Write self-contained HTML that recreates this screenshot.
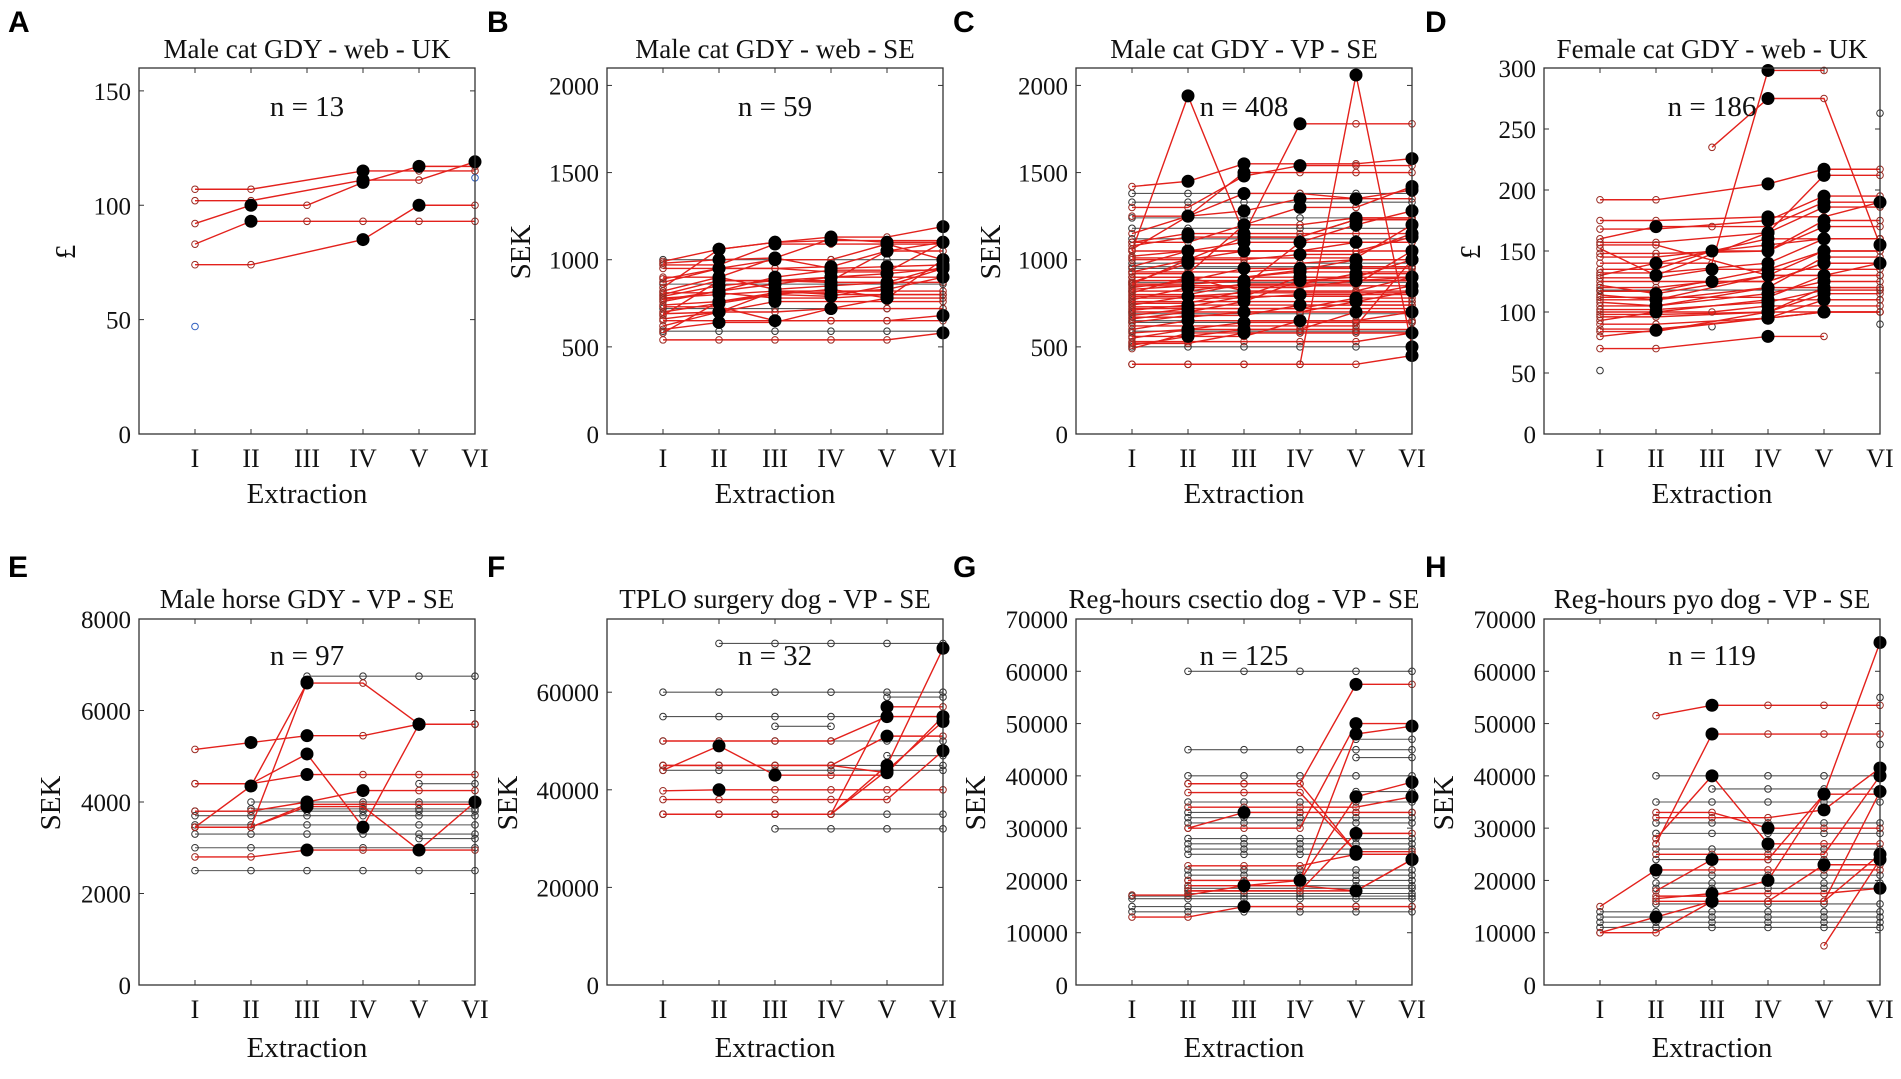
<!DOCTYPE html>
<html><head><meta charset="utf-8"><title>Price extraction panels</title>
<style>
html,body{margin:0;padding:0;background:#fff;}
svg{display:block;}
text{font-family:"Liberation Serif",serif;fill:#111;}
.lett{font-family:"Liberation Sans",sans-serif;font-weight:bold;font-size:30px;fill:#000;}
</style></head>
<body>
<svg id="fig" width="1901" height="1079" viewBox="0 0 1901 1079" xmlns="http://www.w3.org/2000/svg"></svg>
<script>
// ---- shared categories ----
const categories = ["I","II","III","IV","V","VI"];
// ---- panel titles / meta ----
const titles = ["Male cat GDY - web - UK","Male cat GDY - web - SE","Male cat GDY - VP - SE","Female cat GDY - web - UK","Male horse GDY - VP - SE","TPLO surgery dog - VP - SE","Reg-hours csectio dog - VP - SE","Reg-hours pyo dog - VP - SE"];
const letters = ["A","B","C","D","E","F","G","H"];
const nLabels = ["n = 13","n = 59","n = 408","n = 186","n = 97","n = 32","n = 125","n = 119"];
const yTitles = ["£","SEK","SEK","£","SEK","SEK","SEK","SEK"];
const yMax = [160,2100,2100,300,8000,75000,70000,70000];
const yTicksA = [0,50,100,150];
const yTicksB = [0,500,1000,1500,2000];
const yTicksD = [0,50,100,150,200,250,300];
const yTicksE = [0,2000,4000,6000,8000];
const yTicksF = [0,20000,40000,60000];
const yTicksG = [0,10000,20000,30000,40000,50000,60000,70000];
const _ = null;
// ---- series data (values per extraction I..VI) ----
const seriesA = [
 [107,107,_,115,115,115],[102,102,_,111,111,119],[92,100,100,110,117,117],
 [83,93,93,93,93,93],[74,74,_,85,100,100]];
const blueA = [[47,_,_,_,_,_],[_,_,_,_,_,112]];
const seriesB = [
 [1000,1000,1000,1000,1000,1000],[990,1060,1100,1130,1130,1190],[980,1000,1010,1120,1100,1100],
 [950,950,950,960,1050,1100],[890,950,1000,1000,1090,1000],[860,860,860,860,860,860],
 [840,1060,1100,1110,1110,1110],[820,900,1010,950,960,970],[800,880,880,880,1050,1050],
 [790,850,880,900,920,950],[780,800,820,800,800,800],[760,820,860,900,900,900],
 [740,760,800,790,850,950],[720,720,720,720,720,720],[700,750,800,830,780,1000],
 [690,700,760,760,760,760],[680,880,880,870,870,870],[660,700,700,720,780,780],
 [650,650,650,650,650,680],[600,640,640,720,720,720],[590,590,590,590,590,590],
 [580,760,810,810,830,900],[540,540,540,540,540,580],[770,820,900,940,940,940],
 [900,900,830,850,870,960],[970,970,1090,1090,1090,1090],[730,730,650,650,650,650],
 [810,810,780,780,800,800],[870,950,950,930,930,1100],[620,700,820,820,820,820]];
const blueB = [];
const seriesC = [
 [1050,1940,1150,1150,1150,1150],[400,400,400,400,2060,500],[1100,1150,1150,1780,1780,1780],
 [400,400,400,400,400,450],[1420,1450,1550,1550,1550,1580],[1380,1380,1380,1380,1380,1380],
 [1330,1330,1330,1330,1330,1330],[1300,1300,1480,1540,1540,1540],[1250,1250,1280,1350,1350,1400],
 [1180,1180,1180,1180,1180,1180],[1150,1250,1500,1500,1500,1500],[1100,1100,1200,1300,1300,1420],
 [1080,1130,1130,1130,1230,1230],[1060,1250,1380,1380,1350,1350],[1020,1050,1050,1050,1100,1100],
 [980,980,980,980,980,980],[960,1050,1100,1100,1200,1280],[950,950,950,950,950,950],
 [930,1000,1000,1030,1030,1150],[920,920,1200,1200,1240,1240],[900,900,900,900,900,1000],
 [880,880,950,950,960,960],[870,980,980,980,1000,1000],[850,850,850,1100,1100,1100],
 [840,880,880,880,880,900],[820,820,820,820,820,820],[810,900,900,930,930,930],
 [800,800,860,860,860,1050],[780,780,780,800,800,800],[770,840,840,840,880,880],
 [760,760,760,760,760,760],[750,750,820,820,820,820],[740,790,790,900,900,900],
 [720,720,720,720,780,780],[700,700,760,760,760,820],[690,690,690,690,690,690],
 [680,720,720,720,720,720],[660,700,700,700,760,760],[650,650,650,650,650,650],
 [640,680,680,740,740,740],[620,620,620,620,620,1000],[600,650,650,650,650,700],
 [590,590,590,590,590,590],[580,600,640,640,640,640],[560,560,600,600,600,600],
 [550,600,600,600,700,700],[530,530,530,530,530,580],[520,520,580,580,580,580],
 [500,500,500,500,500,500],[490,580,580,580,580,580],[510,560,560,650,650,650],
 [860,1000,1050,1050,1050,1050],[900,900,820,820,820,900],[1000,1000,1130,1130,1230,1230],
 [760,760,760,880,880,880],[820,820,860,860,920,920],[700,700,700,700,700,700],
 [960,960,960,960,960,960],[870,870,870,870,870,870],[1120,1120,1120,1120,1120,1120],
 [1240,1240,1240,1240,1240,1240],[640,640,640,640,640,640],[1010,1010,1010,1010,1010,1200],
 [730,730,790,790,790,850],[900,900,900,940,1000,1000],[1050,1050,1050,1050,1050,1130],
 [830,850,850,850,850,850],[790,790,810,810,810,810],[710,740,740,740,740,740],
 [670,670,700,700,700,700],[930,930,930,950,950,950],[860,860,880,880,900,900]];
const blueC = [];
const seriesD = [
 [192,192,_,205,217,217],[_,_,235,275,275,155],[130,140,140,298,298,_],
 [175,175,_,178,178,190],[168,168,_,175,195,195],[160,170,170,170,190,190],
 [157,157,_,165,212,212],[152,130,_,165,186,186],[148,148,_,150,175,175],
 [140,140,_,160,160,160],[135,135,150,150,170,170],[132,132,_,140,160,160],
 [128,128,135,135,150,150],[125,125,_,125,140,140],[122,115,_,130,150,150],
 [120,120,125,125,140,140],[117,117,_,135,135,135],[114,110,_,120,145,145],
 [112,112,_,112,130,130],[110,110,_,130,130,140],[108,105,_,120,120,120],
 [105,105,_,115,125,125],[102,102,_,108,118,118],[100,100,_,110,110,110],
 [98,98,_,100,115,115],[96,96,_,100,100,100],[93,100,100,105,105,105],
 [90,90,_,95,100,100],[86,86,_,95,110,110],[84,84,_,100,120,120],
 [80,85,_,95,100,100],[70,70,_,80,80,_],[155,155,_,130,130,130],
 [118,118,_,118,118,118],[145,145,_,155,160,160],[_,_,_,_,_,263],[_,_,_,_,_,90],[52,_,_,_,_,_],[_,_,88,_,_,_]];
const blueD = [];
const seriesE = [
 [_,_,6750,6750,6750,6750],[3450,4350,6600,6600,5700,5700],[5150,5300,5450,5450,5700,5700],
 [4400,4400,5050,3450,5700,5700],[4400,4400,4600,4600,4600,4600],[3450,3450,6620,_,_,_],
 [3800,3800,4000,4250,4250,4250],[3450,3450,3950,3950,3950,3950],[3450,3450,3900,3900,2950,4000],
 [2800,2800,2950,2950,2950,2950],[3800,3800,3800,3800,3800,3800],[3700,3700,3700,3700,3700,3700],
 [3500,3500,3500,3500,3500,3500],[3300,3300,3300,3300,3300,3300],[3000,3000,3000,3000,3000,3000],
 [2500,2500,2500,2500,2500,2500],[_,4000,4000,4000,4000,4000],[_,_,_,_,4400,4400],[_,_,_,_,3200,3200],
 [_,3850,3850,3850,3850,3850]];
const blueE = [];
const seriesF = [
 [_,70000,70000,70000,70000,70000],[60000,60000,60000,60000,60000,60000],[55000,55000,55000,55000,55000,55000],
 [_,_,53000,53000,_,_],[50000,50000,50000,50000,55000,55000],[44000,49000,43000,43000,43000,_],
 [39800,40000,40000,40000,40000,40000],[38000,38000,38000,38000,38000,48000],[35000,35000,35000,35000,57000,57000],
 [35000,35000,35000,35000,45000,69000],[35000,35000,35000,35000,44000,54000],[45000,45000,45000,45000,51000,51000],
 [45000,45000,45000,45000,43500,55000],[45000,45000,45000,45000,45000,45000],[44000,44000,44000,44000,44000,44000],
 [_,_,32000,32000,32000,32000],[_,_,35000,35000,35000,35000],[_,_,_,_,59000,59000],[_,_,_,_,47000,47000],
 [50000,50000,50000,50000,50000,50000]];
const blueF = [];
const seriesG = [
 [17200,17200,19000,19000,18000,24000],[13000,13000,15000,15000,15000,15000],[17000,17000,17000,17000,17000,17000],
 [16500,16500,16500,16500,16500,16500],[15000,15000,15000,15000,15000,15000],[14000,14000,14000,14000,14000,14000],
 [_,60000,60000,60000,60000,60000],[_,38500,38500,38500,57500,57500],[_,30000,30000,30000,50000,50000],
 [_,38500,38500,38500,25500,25500],[_,36800,36800,36800,25500,_],[_,30000,33000,33000,33000,33000],
 [_,34000,34000,34000,34000,36000],[_,22800,22800,22800,25000,25000],[_,20000,20000,20000,48000,49500],
 [_,18000,18000,18000,29000,29000],[_,18000,18000,18000,18000,24000],[_,19000,19000,20000,36000,38800],
 [_,45000,45000,45000,45000,45000],[_,40000,40000,40000,40000,40000],[_,35000,35000,35000,35000,35000],
 [_,33000,33000,33000,33000,33000],[_,32000,32000,32000,32000,32000],[_,31000,31000,31000,31000,31000],
 [_,28000,28000,28000,28000,28000],[_,27000,27000,27000,27000,27000],[_,26000,26000,26000,26000,26000],
 [_,25000,25000,25000,25000,25000],[_,22000,22000,22000,22000,22000],[_,21000,21000,21000,21000,21000],
 [_,20000,20000,20000,20000,20000],[_,19000,19000,19000,19000,19000],[_,18500,18500,18500,18500,18500],
 [_,_,_,_,47000,47000],[_,_,_,_,43500,43500],[_,_,_,_,37000,37000],[_,17500,17500,17500,17500,17500]];
const blueG = [];
const seriesH = [
 [15000,22000,22000,22000,22000,22000],[_,51500,53500,53500,53500,53500],[_,27000,48000,48000,48000,48000],
 [_,28000,40000,27000,27000,27000],[_,40000,40000,40000,40000,40000],[_,_,37500,37500,37500,37500],
 [_,18000,24000,24000,36500,65500],[10000,13000,16000,16000,16000,25000],[10000,10000,16000,16000,16000,37000],
 [_,_,_,_,7500,24000],[_,33000,33000,30000,30000,30000],[_,32000,32000,32000,33500,41500],
 [_,17000,17000,20000,36500,36500],[_,25000,25000,25000,25000,40000],[_,16500,17500,17500,17500,18500],
 [14000,14000,14000,14000,14000,14000],[13000,13000,13000,13000,13000,13000],[12000,12000,12000,12000,12000,12000],
 [11000,11000,11000,11000,11000,11000],[_,35000,35000,35000,35000,35000],[_,31000,31000,31000,31000,31000],
 [_,29000,29000,29000,29000,29000],[_,26000,26000,26000,26000,26000],[_,24000,24000,24000,24000,24000],
 [_,21000,21000,21000,21000,21000],[_,19500,19500,19500,19500,19500],[_,18500,18500,18500,18500,18500],
 [_,15500,15500,15500,15500,15500],[_,_,_,_,_,55000],[_,_,_,_,_,46000],[_,16000,16000,16000,23000,23000]];
const blueH = [];

const allSeries = [seriesA,seriesB,seriesC,seriesD,seriesE,seriesF,seriesG,seriesH];
const allBlue = [blueA,blueB,blueC,blueD,blueE,blueF,blueG,blueH];
const allTicks = [yTicksA,yTicksB,yTicksB,yTicksD,yTicksE,yTicksF,yTicksG,yTicksG];

// ---- layout ----
const boxL = [139,607,1076,1544];
const boxW = 336;
const rowTop = [68,619], boxH = 366;
const yTitleX = [[65,520,990,1470],[50,507,975,1443]];
const letterX = [8,487,953,1425];
const svg = document.getElementById('fig');
const NS = 'http://www.w3.org/2000/svg';
function mk(tag, attrs, parent){const e=document.createElementNS(NS,tag);for(const k in attrs)e.setAttribute(k,attrs[k]);(parent||svg).appendChild(e);return e;}

for (let p=0;p<8;p++){
  const row = p<4?0:1, col = p%4;
  const L = boxL[col], T = rowTop[row], R = L+boxW, B = T+boxH;
  const xs = i => L + (i+1)*boxW/6;
  const ys = v => B - v/yMax[p]*boxH;
  const g = mk('g',{});
  
  

  const lt = mk('text',{x:letterX[col], y: row?577:32, class:'lett'}, g);
  lt.textContent = letters[p];
  
  

  const tt = mk('text',{x:(L+R)/2, y: row?608:58, 'text-anchor':'middle','font-size':27}, g);
  tt.textContent = titles[p];
  
  

  allTicks[p].forEach(t=>{
    const y = ys(t);
    const tl = mk('text',{x:L-8, y:y+9, 'text-anchor':'end','font-size':25}, g);
    tl.textContent = t;
    
    
    mk('line',{x1:L,x2:L+5,y1:y,y2:y,stroke:'#333','stroke-width':1},g);
    mk('line',{x1:R,x2:R-5,y1:y,y2:y,stroke:'#333','stroke-width':1},g);
  });
  categories.forEach((c,i)=>{
    const x = xs(i);
    const xl = mk('text',{x:x, y: row?1018:467, 'text-anchor':'middle','font-size':26}, g);
    xl.textContent = c;
    
    
    mk('line',{x1:x,x2:x,y1:B,y2:B-5,stroke:'#333','stroke-width':1},g);
    mk('line',{x1:x,x2:x,y1:T,y2:T+5,stroke:'#333','stroke-width':1},g);
  });
  const xt = mk('text',{x:(L+R)/2, y: row?1057:503, 'text-anchor':'middle','font-size':29}, g);
  xt.textContent = 'Extraction';
  
  
  const yx = yTitleX[row][col], yy = row?803:252;
  const yt = mk('text',{x:yx, y:yy, 'text-anchor':'middle','font-size':29, transform:`rotate(-90 ${yx} ${yy})`, dy:10}, g);
  yt.textContent = yTitles[p];
  
  

  const ser = allSeries[p];
  const changed = s => { let prev=null, ch=false; s.forEach(v=>{ if(v!==null){ if(prev!==null && v!==prev) ch=true; prev=v; } }); return ch; };
  const order = ser.map((s,i)=>i).sort((a,b)=>changed(ser[a])-changed(ser[b]));
  const filled = [];
  order.forEach(si=>{
    const s = ser[si], red = changed(s);
    const col_ = red ? '#e3211c' : '#555';
    const sg = mk('g',{},g);
    
    
    let pts = [];
    s.forEach((v,i)=>{ if(v!==null) pts.push([xs(i),ys(v)]); });
    if (pts.length>1){
      const pl = mk('polyline',{points:pts.map(q=>q.join(',')).join(' '),fill:'none',stroke:col_,'stroke-width':red?1.4:1.1},sg);
      
      
    }
    let prev=null;
    s.forEach((v,i)=>{
      if(v===null) return;
      const c = mk('circle',{cx:xs(i),cy:ys(v),r:3.3,fill:'none',stroke:red?'#9a2a22':'#333','stroke-width':1},sg);
      
      
      if(prev!==null && v!==prev) filled.push([i,v]);
      prev=v;
    });
  });
  filled.forEach(([i,v])=>{
    const c = mk('circle',{cx:xs(i),cy:ys(v),r:6.5,fill:'#000'},g);
    
    
  });
  allBlue[p].forEach(s=>{
    s.forEach((v,i)=>{ if(v===null) return;
      const c = mk('circle',{cx:xs(i),cy:ys(v),r:3.3,fill:'none',stroke:'#3060c0','stroke-width':1},g);
      
      
    });
  });

  const nl = mk('text',{x:(L+R)/2, y: row?665:116, 'text-anchor':'middle','font-size':29}, g);
  nl.textContent = nLabels[p];
  
  

  const box = mk('rect',{x:L,y:T,width:boxW,height:boxH,fill:'none',stroke:'#333','stroke-width':1.3},g);
  
  
}
</script>
</body></html>
